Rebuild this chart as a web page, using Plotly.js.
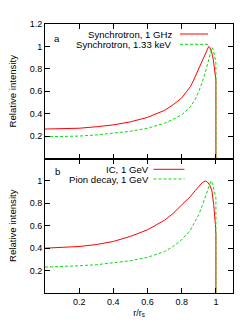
<!DOCTYPE html>
<html>
<head>
<meta charset="utf-8">
<script src="https://cdn.plot.ly/plotly-3.0.1.min.js"></script>
<style>html,body{margin:0;padding:0;background:#fff;}#chart{width:250px;height:333px;}</style>
</head>
<body>
<div id="chart"></div>
<script>
// Panel a: synchrotron profiles
const syncRadioX = [0, 0.1, 0.2, 0.3, 0.4, 0.5, 0.6, 0.7, 0.75, 0.8, 0.85, 0.87, 0.9, 0.92, 0.94, 0.95, 0.958, 0.965, 0.975, 0.985, 0.993, 0.998, 1.0, 1.0];
const syncRadioY = [0.263, 0.265, 0.27, 0.283, 0.30, 0.327, 0.367, 0.43, 0.48, 0.54, 0.64, 0.70, 0.80, 0.87, 0.94, 0.975, 1.0, 0.99, 0.95, 0.88, 0.80, 0.76, 0.70, 0];
const syncXrayX = [0, 0.1, 0.2, 0.3, 0.4, 0.5, 0.6, 0.7, 0.75, 0.8, 0.85, 0.88, 0.9, 0.92, 0.94, 0.955, 0.965, 0.977, 0.985, 0.992, 0.997, 1.0, 1.0];
const syncXrayY = [0.194, 0.196, 0.2, 0.21, 0.224, 0.243, 0.27, 0.315, 0.35, 0.39, 0.46, 0.53, 0.6, 0.68, 0.78, 0.87, 0.93, 0.99, 0.97, 0.93, 0.88, 0.85, 0];
// Panel b: gamma-ray profiles
const icX = [0, 0.1, 0.2, 0.3, 0.4, 0.5, 0.6, 0.7, 0.75, 0.8, 0.85, 0.88, 0.9, 0.92, 0.938, 0.95, 0.965, 0.977, 0.987, 0.993, 0.997, 1.0, 1.0];
const icY = [0.40, 0.405, 0.415, 0.432, 0.46, 0.505, 0.564, 0.65, 0.71, 0.786, 0.86, 0.915, 0.95, 0.985, 1.0, 0.99, 0.96, 0.91, 0.79, 0.70, 0.61, 0.52, 0];
const pionX = [0, 0.1, 0.2, 0.3, 0.4, 0.5, 0.6, 0.7, 0.75, 0.8, 0.85, 0.88, 0.9, 0.92, 0.94, 0.955, 0.971, 0.98, 0.99, 0.997, 1.0, 1.0];
const pionY = [0.231, 0.235, 0.243, 0.252, 0.267, 0.288, 0.318, 0.37, 0.415, 0.475, 0.56, 0.64, 0.70, 0.78, 0.86, 0.93, 1.0, 0.98, 0.92, 0.88, 0.85, 0];

const seriesNames = ['Synchrotron, 1 GHz', 'Synchrotron, 1.33 keV', 'IC, 1 GeV', 'Pion decay, 1 GeV'];
const xTickVals = [0.2, 0.4, 0.6, 0.8, 1];
const xTickText = ['0.2', '0.4', '0.6', '0.8', '1'];
const yTopTickVals = [0.2, 0.4, 0.6, 0.8, 1, 1.2];
const yTopTickText = ['0.2', '0.4', '0.6', '0.8', '1', '1.2'];
const yBotTickVals = [0.2, 0.4, 0.6, 0.8, 1];
const yBotTickText = ['0.2', '0.4', '0.6', '0.8', '1'];

const RED = '#ff0000', GREEN = '#00e000';
const FONT = {family: 'Liberation Sans, Arial, sans-serif', size: 9, color: '#000'};
const FONT_L = {family: 'Liberation Sans, Arial, sans-serif', size: 9.6, color: '#000'};

const traces = [
  {x: syncRadioX, y: syncRadioY, xaxis: 'x2', yaxis: 'y2', mode: 'lines', name: seriesNames[0], line: {color: RED, width: 1}},
  {x: syncXrayX, y: syncXrayY, xaxis: 'x2', yaxis: 'y2', mode: 'lines', name: seriesNames[1], line: {color: GREEN, width: 1, dash: '3px,2px'}},
  {x: icX, y: icY, xaxis: 'x', yaxis: 'y', mode: 'lines', name: seriesNames[2], line: {color: RED, width: 1}},
  {x: pionX, y: pionY, xaxis: 'x', yaxis: 'y', mode: 'lines', name: seriesNames[3], line: {color: GREEN, width: 1, dash: '3px,2px'}}
];

const axisCommon = {
  showline: true, linecolor: '#000', linewidth: 1, mirror: 'allticks',
  ticks: 'inside', ticklen: 5, tickwidth: 1, tickcolor: '#000',
  showgrid: false, zeroline: false, tickfont: FONT
};

// helpers: pixel -> paper coordinates (plot area 45..233 x, 24..293 y)
const L = 45, R = 17, T = 24, B = 40, W = 250, H = 333;
const px = v => (v - L) / (W - L - R);
const py = v => (H - B - v) / (H - T - B);

const layout = {
  width: W, height: H,
  margin: {l: L, r: R, t: T, b: B, pad: 0},
  paper_bgcolor: '#fff', plot_bgcolor: '#fff',
  showlegend: false,
  font: FONT,
  xaxis: Object.assign({}, axisCommon, {
    domain: [0, 1], anchor: 'y', range: [0, 1.1],
    tickvals: xTickVals, ticktext: xTickText,
    title: {text: 'r/r<sub>s</sub>', font: FONT, standoff: 3}
  }),
  xaxis2: Object.assign({}, axisCommon, {
    domain: [0, 1], anchor: 'y2', matches: 'x', range: [0, 1.1],
    tickvals: xTickVals, showticklabels: false
  }),
  yaxis: Object.assign({}, axisCommon, {
    domain: [0, 0.5], anchor: 'x', range: [0, 1.2],
    tickvals: yBotTickVals, ticktext: yBotTickText,
    title: {text: 'Relative intensity', font: FONT_L, standoff: 11}
  }),
  yaxis2: Object.assign({}, axisCommon, {
    domain: [0.5, 1], anchor: 'x2', range: [0, 1.2],
    tickvals: yTopTickVals, ticktext: yTopTickText,
    title: {text: 'Relative intensity', font: FONT_L, standoff: 11}
  }),
  annotations: [
    {text: 'a', xref: 'paper', yref: 'paper', x: px(57), y: py(39), xanchor: 'center', yanchor: 'middle', showarrow: false, font: FONT_L},
    {text: 'b', xref: 'paper', yref: 'paper', x: px(57), y: py(171.5), xanchor: 'center', yanchor: 'middle', showarrow: false, font: FONT_L},
    {text: seriesNames[0], xref: 'paper', yref: 'paper', x: px(174), y: py(34), xanchor: 'right', yanchor: 'middle', showarrow: false, font: FONT_L},
    {text: seriesNames[1], xref: 'paper', yref: 'paper', x: px(174), y: py(44.3), xanchor: 'right', yanchor: 'middle', showarrow: false, font: FONT_L},
    {text: seriesNames[2], xref: 'paper', yref: 'paper', x: px(151), y: py(169.3), xanchor: 'right', yanchor: 'middle', showarrow: false, font: FONT_L},
    {text: seriesNames[3], xref: 'paper', yref: 'paper', x: px(151), y: py(179), xanchor: 'right', yanchor: 'middle', showarrow: false, font: FONT_L}
  ],
  shapes: [
    {type: 'line', xref: 'paper', yref: 'paper', x0: px(180), x1: px(208), y0: py(34), y1: py(34), line: {color: RED, width: 1}},
    {type: 'line', xref: 'paper', yref: 'paper', x0: px(180), x1: px(208), y0: py(44.3), y1: py(44.3), line: {color: GREEN, width: 1, dash: '3px,2px'}},
    {type: 'line', xref: 'paper', yref: 'paper', x0: px(153.5), x1: px(184.5), y0: py(169.3), y1: py(169.3), line: {color: RED, width: 1}},
    {type: 'line', xref: 'paper', yref: 'paper', x0: px(153.5), x1: px(184.5), y0: py(179), y1: py(179), line: {color: GREEN, width: 1, dash: '3px,2px'}}
  ]
};

Plotly.newPlot('chart', traces, layout, {staticPlot: true, displayModeBar: false});
</script>
</body>
</html>
